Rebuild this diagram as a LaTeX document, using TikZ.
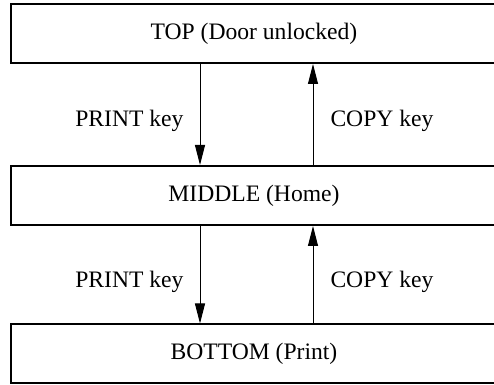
\documentclass[tikz,border=0pt]{standalone}
\usepackage{fontspec}
\setmainfont{Liberation Serif}
\usetikzlibrary{arrows.meta}
\tikzset{
  statebox/.style={draw, line width=1pt, minimum width=243pt, minimum height=29.5pt, inner sep=0pt},
  keyarrow/.style={line width=0.5pt, -{Triangle[length=10pt, width=5pt]}},
  keylabel/.style={inner sep=0pt}
}
\begin{document}
\begin{tikzpicture}[x=0.5pt, y=-0.5pt, font=\fontsize{11.8}{14}\selectfont]
  \clip (0,0) rectangle (494,385);
  \useasboundingbox (0,0) rectangle (494,385);
  % states
  \node[statebox] (top) at (254,33.5) {TOP (Door unlocked)};
  \node[statebox] (mid) at (254,195.5) {MIDDLE (Home)};
  \node[statebox] (bot) at (254,354) {BOTTOM (Print)};
  % arrow columns
  \coordinate (dn) at (200,0);
  \coordinate (up) at (313,0);
  % transitions
  \draw[keyarrow] (top.south -| dn) -- node[keylabel, pos=0.56, left=8pt] (p1) {PRINT key} (mid.north -| dn);
  \draw[keyarrow] (mid.north -| up) -- node[keylabel, pos=0.44, right=8.5pt] (c1) {COPY key} (top.south -| up);
  \draw[keyarrow] (mid.south -| dn) -- node[keylabel, pos=0.57, left=8pt] (p2) {PRINT key} (bot.north -| dn);
  \draw[keyarrow] (bot.north -| up) -- node[keylabel, pos=0.43, right=8.5pt] (c2) {COPY key} (mid.south -| up);
\end{tikzpicture}
\end{document}
